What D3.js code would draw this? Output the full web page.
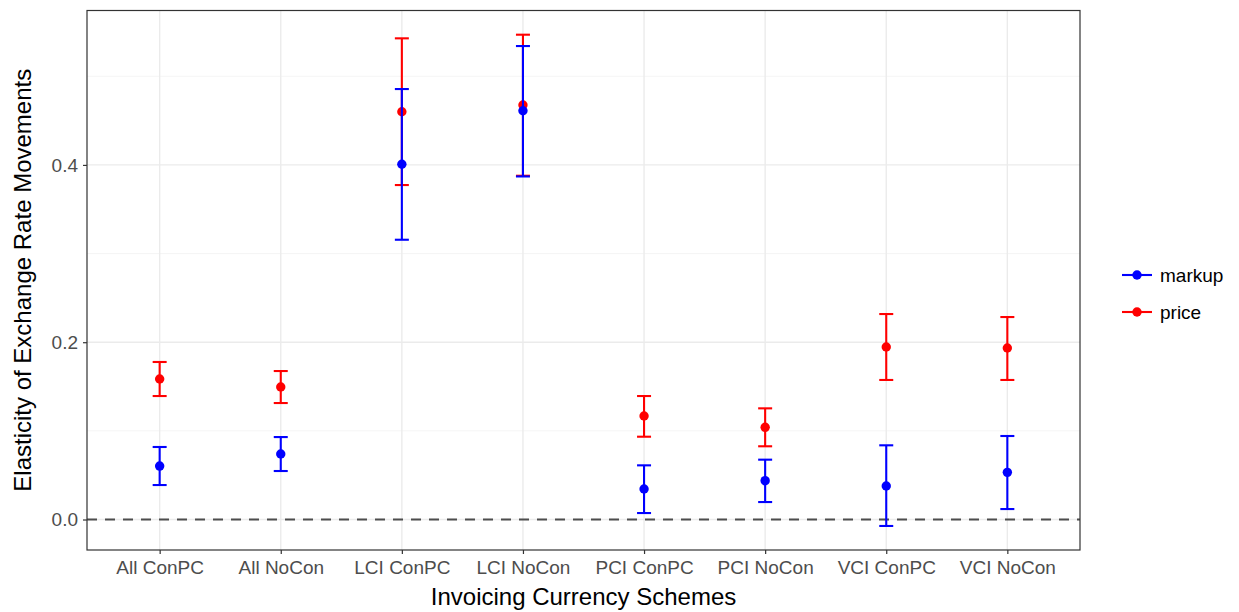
<!DOCTYPE html>
<html>
<head>
<meta charset="utf-8">
<script src="https://cdn.jsdelivr.net/npm/d3@7"></script>
<style>
  body { margin: 0; background: #fff; }
  svg text { font-family: "Liberation Sans", Arial, sans-serif; }
</style>
</head>
<body>
<div id="chart"></div>
<script>
// categories on the x axis
const schemes = ["All ConPC", "All NoCon", "LCI ConPC", "LCI NoCon", "PCI ConPC", "PCI NoCon", "VCI ConPC", "VCI NoCon"];

// price series: estimate, lower, upper
const priceVal = [0.1585, 0.1495, 0.460, 0.4676, 0.1168, 0.104, 0.1946, 0.1935];
const priceLo  = [0.1393, 0.1314, 0.3773, 0.3878, 0.0934, 0.0826, 0.1574, 0.1574];
const priceHi  = [0.1777, 0.1675, 0.5428, 0.5469, 0.1393, 0.1254, 0.2318, 0.2284];

// markup series: estimate, lower, upper
const markupVal = [0.0603, 0.0739, 0.4007, 0.4611, 0.0344, 0.0438, 0.0378, 0.0532];
const markupLo  = [0.0389, 0.0547, 0.3156, 0.3870, 0.0073, 0.0197, -0.0073, 0.0118];
const markupHi  = [0.0818, 0.0930, 0.4856, 0.5341, 0.0611, 0.0675, 0.0837, 0.0942];

const yTicks = [0, 0.2, 0.4];
const yMinor = [0.1, 0.3, 0.5];

const width = 1239, height = 612;
const panel = { left: 87, right: 1080, top: 10.5, bottom: 550 };

const svg = d3.select('#chart').append('svg')
  .attr('width', width).attr('height', height);

const x = d3.scalePoint()
  .domain(schemes)
  .range([panel.left, panel.right])
  .padding(0.6);

const y = d3.scaleLinear()
  .domain([-0.0344, 0.5742])
  .range([panel.bottom, panel.top]);

// minor grid
svg.append('g').selectAll('line').data(yMinor).join('line')
  .attr('x1', panel.left).attr('x2', panel.right)
  .attr('y1', d => y(d)).attr('y2', d => y(d))
  .attr('stroke', '#F2F2F2').attr('stroke-width', 0.8);

// major grid
svg.append('g').selectAll('line').data(yTicks).join('line')
  .attr('x1', panel.left).attr('x2', panel.right)
  .attr('y1', d => y(d)).attr('y2', d => y(d))
  .attr('stroke', '#EBEBEB').attr('stroke-width', 1.4);

svg.append('g').selectAll('line').data(schemes).join('line')
  .attr('x1', d => x(d)).attr('x2', d => x(d))
  .attr('y1', panel.top).attr('y2', panel.bottom)
  .attr('stroke', '#EBEBEB').attr('stroke-width', 1.4);

// zero reference line
svg.append('line')
  .attr('x1', panel.left).attr('x2', panel.right)
  .attr('y1', y(0)).attr('y2', y(0))
  .attr('stroke', '#4D4D4D').attr('stroke-width', 1.9)
  .attr('stroke-dasharray', '10,8');

// error bars and points
function drawSeries(vals, lo, hi, color) {
  const g = svg.append('g');
  const cap = 7;
  schemes.forEach((s, i) => {
    const cx = x(s);
    g.append('line')
      .attr('x1', cx).attr('x2', cx)
      .attr('y1', y(lo[i])).attr('y2', y(hi[i]))
      .attr('stroke', color).attr('stroke-width', 2.1);
    [lo[i], hi[i]].forEach(v => {
      g.append('line')
        .attr('x1', cx - cap).attr('x2', cx + cap)
        .attr('y1', y(v)).attr('y2', y(v))
        .attr('stroke', color).attr('stroke-width', 2.1);
    });
  });
  g.selectAll('circle').data(vals).join('circle')
    .attr('cx', (d, i) => x(schemes[i]))
    .attr('cy', d => y(d))
    .attr('r', 4.7)
    .attr('fill', color);
}

drawSeries(priceVal, priceLo, priceHi, '#FF0000');
drawSeries(markupVal, markupLo, markupHi, '#0000FF');

// panel border
svg.append('rect')
  .attr('x', panel.left).attr('y', panel.top)
  .attr('width', panel.right - panel.left)
  .attr('height', panel.bottom - panel.top)
  .attr('fill', 'none').attr('stroke', '#333333').attr('stroke-width', 1.2);

// axes
const xAxis = svg.append('g')
  .attr('transform', `translate(0,${panel.bottom})`)
  .call(d3.axisBottom(x).tickSize(4).tickPadding(7));
const yAxis = svg.append('g')
  .attr('transform', `translate(${panel.left},0)`)
  .call(d3.axisLeft(y).tickValues(yTicks).tickFormat(d3.format('.1f')).tickSize(4).tickPadding(5));

[xAxis, yAxis].forEach(a => {
  a.select('.domain').remove();
  a.selectAll('line').attr('stroke', '#333333').attr('stroke-width', 1.2);
  a.selectAll('text').attr('fill', '#4D4D4D').style('font-size', '19px');
});

// axis titles
svg.append('text')
  .attr('x', (panel.left + panel.right) / 2)
  .attr('y', 605)
  .attr('text-anchor', 'middle')
  .style('font-size', '24px')
  .text('Invoicing Currency Schemes');

svg.append('text')
  .attr('transform', `translate(31,${(panel.top + panel.bottom) / 2}) rotate(-90)`)
  .attr('text-anchor', 'middle')
  .style('font-size', '24px')
  .text('Elasticity of Exchange Rate Movements');

// legend
const legendItems = [
  { name: 'markup', color: '#0000FF' },
  { name: 'price', color: '#FF0000' }
];
const legend = svg.append('g');
legendItems.forEach((d, i) => {
  const ly = 275 + i * 37;
  legend.append('line')
    .attr('x1', 1122).attr('x2', 1152)
    .attr('y1', ly).attr('y2', ly)
    .attr('stroke', d.color).attr('stroke-width', 2.1);
  legend.append('circle')
    .attr('cx', 1137).attr('cy', ly).attr('r', 4.7)
    .attr('fill', d.color);
  legend.append('text')
    .attr('x', 1160).attr('y', ly + 7)
    .style('font-size', '19px')
    .text(d.name);
});
</script>
</body>
</html>
